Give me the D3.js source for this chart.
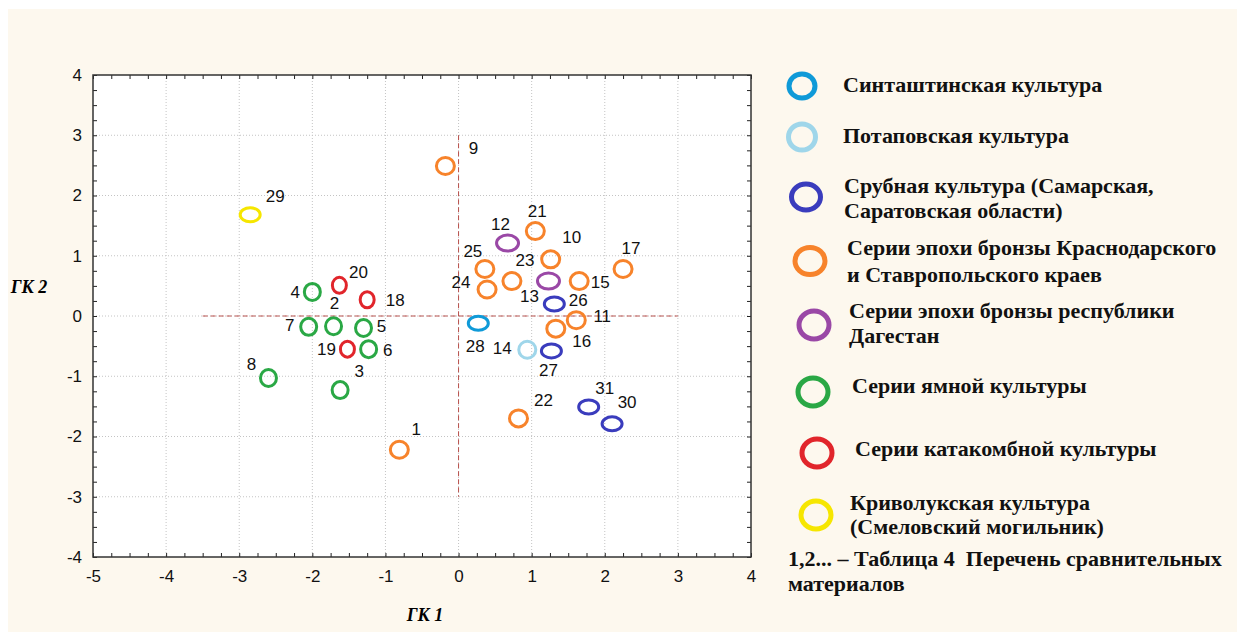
<!DOCTYPE html>
<html>
<head>
<meta charset="utf-8">
<script src="https://cdn.jsdelivr.net/npm/d3@7"></script>
<style>
  body { margin: 0; background: #fff; }
  svg { display: block; }
  .tick text { font-family: "Liberation Sans", Arial, sans-serif; font-size: 17px; fill: #111; }
</style>
</head>
<body>
<svg width="1237" height="632"></svg>
<script>
// groups (legend order)
var groupNames = [
    ["Синташтинская культура"],
    ["Потаповская культура"],
    ["Срубная культура (Самарская,", "Саратовская области)"],
    ["Серии эпохи бронзы Краснодарского", "и Ставропольского краев"],
    ["Серии эпохи бронзы республики", "Дагестан"],
    ["Серии ямной культуры"],
    ["Серии катакомбной культуры"],
    ["Криволукская культура", "(Смеловский могильник)"]
];
var groupColors = ["#0f9ad8", "#9fd6ea", "#3a3cbd", "#f7832b", "#9a48a6", "#2aa845", "#e1252b", "#f6e600"];

// points, numbered as in table 4
var ids   = [1, 2, 3, 4, 5, 6, 7, 8, 9, 10, 11, 12, 13, 14, 15, 16, 17, 18, 19, 20, 21, 22, 23, 24, 25, 26, 27, 28, 29, 30, 31];
var gk1   = [-0.81, -1.71, -1.62, -2.00, -1.30, -1.23, -2.05, -2.60, -0.18, 1.26, 1.61, 0.67, 1.23, 0.94, 1.65, 1.33, 2.25, -1.25, -1.52, -1.63, 1.05, 0.82, 0.73, 0.39, 0.36, 1.31, 1.27, 0.27, -2.85, 2.10, 1.78];
var gk2   = [-2.22, -0.17, -1.23, 0.40, -0.20, -0.55, -0.18, -1.03, 2.49, 0.94, -0.07, 1.21, 0.58, -0.56, 0.58, -0.21, 0.78, 0.27, -0.55, 0.51, 1.41, -1.70, 0.58, 0.44, 0.78, 0.20, -0.58, -0.12, 1.68, -1.79, -1.51];
var group = [3, 5, 5, 5, 5, 5, 5, 5, 3, 3, 3, 4, 4, 1, 3, 3, 3, 6, 6, 6, 3, 3, 3, 3, 3, 2, 2, 0, 7, 2, 2];

var xTicks = [-5, -4, -3, -2, -1, 0, 1, 2, 3, 4];
var yTicks = [-4, -3, -2, -1, 0, 1, 2, 3, 4];

var footnote = ["1,2... – Таблица 4  Перечень сравнительных", "материалов"];

// --- layout / style (not data) ---
var markerSize = [[10, 7], [8.5, 8.5], [10, 7], [9, 8.5], [11, 8], [8, 8.5], [7, 8], [10, 7]];
// label offset of each number from its marker centre
var labelOff = {
    1: [17, -21], 2: [1, -23], 3: [19, -19], 4: [-17, 0], 5: [18, -2], 6: [19, 1], 7: [-19, -2], 8: [-17, -14],
    9: [28, -18], 10: [21, -22], 11: [26, -4], 12: [-7, -19], 13: [-19, 15], 14: [-25, -2], 15: [21, 1], 16: [26, 12],
    17: [8, -21], 18: [28, 0], 19: [-21, 0], 20: [19, -13], 21: [2, -20], 22: [25, -19], 23: [13, -21], 24: [-26, -8],
    25: [-12, -18], 26: [24, -4], 27: [-3, 19], 28: [-3, 23], 29: [25, -19], 30: [15, -22], 31: [16, -19]
};
var legendPos = [
    {cx: 802, cy: 86, rx: 13, ry: 12, tx: 843, ty: [92]},
    {cx: 802, cy: 137, rx: 13.5, ry: 13, tx: 843, ty: [143]},
    {cx: 806, cy: 197, rx: 14.5, ry: 13, tx: 844, ty: [193, 218]},
    {cx: 810, cy: 261, rx: 15, ry: 13.5, tx: 847, ty: [255, 282]},
    {cx: 814, cy: 325, rx: 15, ry: 14, tx: 849, ty: [318, 343]},
    {cx: 813, cy: 392, rx: 15, ry: 14, tx: 852, ty: [393]},
    {cx: 817, cy: 453, rx: 15, ry: 14, tx: 855, ty: [456]},
    {cx: 816, cy: 515, rx: 15, ry: 14, tx: 850, ty: [510, 534]}
];
var legendFont = "bold 22px 'Liberation Serif', serif";

var svg = d3.select("svg");
var L = 93, R = 751, T = 75, B = 557;

svg.append("rect").attr("width", 1237).attr("height", 632).attr("fill", "#ffffff");
svg.append("rect").attr("x", 8).attr("y", 9).attr("width", 1229).attr("height", 623).attr("fill", "#fdf8ee");
svg.append("rect").attr("x", L).attr("y", T).attr("width", R - L).attr("height", B - T).attr("fill", "#ffffff");

var x = d3.scaleLinear().domain([-5, 4]).range([L, R]);
var y = d3.scaleLinear().domain([-4, 4]).range([B, T]);

// grid
var grid = svg.append("g").attr("stroke", "#c4c4c4").attr("stroke-dasharray", "1,2").attr("stroke-width", 1);
xTicks.slice(1, -1).forEach(function(v) {
    grid.append("line").attr("x1", x(v)).attr("x2", x(v)).attr("y1", T).attr("y2", B);
});
yTicks.slice(1, -1).forEach(function(v) {
    grid.append("line").attr("y1", y(v)).attr("y2", y(v)).attr("x1", L).attr("x2", R);
});

// red dashed reference lines
svg.append("line").attr("x1", x(-3.5)).attr("x2", x(3)).attr("y1", y(0)).attr("y2", y(0))
    .attr("stroke", "#b8504c").attr("stroke-width", 1).attr("stroke-dasharray", "5,3");
svg.append("line").attr("x1", x(0)).attr("x2", x(0)).attr("y1", y(3)).attr("y2", y(-3))
    .attr("stroke", "#b8504c").attr("stroke-width", 1).attr("stroke-dasharray", "5,3");

// minor ticks on all four sides, pointing inward
var minorX = d3.range(-5, 4.001, 0.25), minorY = d3.range(-4, 4.001, 0.25);
function minor(g) { g.select(".domain").remove(); g.selectAll("line").attr("stroke", "#222"); }
svg.append("g").attr("transform", "translate(0," + B + ")")
    .call(d3.axisBottom(x).tickValues(minorX).tickSize(-4).tickFormat("")).call(minor);
svg.append("g").attr("transform", "translate(0," + T + ")")
    .call(d3.axisTop(x).tickValues(minorX).tickSize(-4).tickFormat("")).call(minor);
svg.append("g").attr("transform", "translate(" + L + ",0)")
    .call(d3.axisLeft(y).tickValues(minorY).tickSize(-4).tickFormat("")).call(minor);
svg.append("g").attr("transform", "translate(" + R + ",0)")
    .call(d3.axisRight(y).tickValues(minorY).tickSize(-4).tickFormat("")).call(minor);

// tick labels
svg.append("g").attr("transform", "translate(0," + B + ")")
    .call(d3.axisBottom(x).tickValues(xTicks).tickSize(0).tickPadding(13).tickFormat(function(d) { return String(d); }))
    .call(function(g) { g.select(".domain").remove(); });
svg.append("g").attr("transform", "translate(" + L + ",0)")
    .call(d3.axisLeft(y).tickValues(yTicks).tickSize(0).tickPadding(11).tickFormat(function(d) { return String(d); }))
    .call(function(g) { g.select(".domain").remove(); });

// frame
svg.append("rect").attr("x", L).attr("y", T).attr("width", R - L).attr("height", B - T)
    .attr("fill", "none").attr("stroke", "#333").attr("stroke-width", 1.5);

// axis titles
svg.append("text").attr("x", 29).attr("y", 293).attr("text-anchor", "middle")
    .style("font", "italic bold 18px 'Liberation Serif', serif").text("ГК 2");
svg.append("text").attr("x", 425).attr("y", 621).attr("text-anchor", "middle")
    .style("font", "italic bold 18px 'Liberation Serif', serif").text("ГК 1");

// points
var pts = ids.map(function(id, i) { return {id: id, gx: gk1[i], gy: gk2[i], g: group[i]}; });
svg.append("g").selectAll("ellipse").data(pts).join("ellipse")
    .attr("cx", function(d) { return x(d.gx); })
    .attr("cy", function(d) { return y(d.gy); })
    .attr("rx", function(d) { return markerSize[d.g][0]; })
    .attr("ry", function(d) { return markerSize[d.g][1]; })
    .attr("fill", "none")
    .attr("stroke", function(d) { return groupColors[d.g]; })
    .attr("stroke-width", 3);

svg.append("g").selectAll("text").data(pts).join("text")
    .attr("x", function(d) { return x(d.gx) + labelOff[d.id][0]; })
    .attr("y", function(d) { return y(d.gy) + labelOff[d.id][1]; })
    .attr("dy", "0.36em")
    .attr("text-anchor", "middle")
    .style("font", "17px 'Liberation Sans', Arial, sans-serif")
    .attr("fill", "#111")
    .text(function(d) { return d.id; });

// legend
var leg = svg.append("g");
groupNames.forEach(function(lines, i) {
    var p = legendPos[i];
    leg.append("ellipse").attr("cx", p.cx).attr("cy", p.cy).attr("rx", p.rx).attr("ry", p.ry)
        .attr("fill", "none").attr("stroke", groupColors[i]).attr("stroke-width", 5);
    lines.forEach(function(t, j) {
        leg.append("text").attr("x", p.tx).attr("y", p.ty[j])
            .style("font", legendFont).attr("fill", "#111").text(t);
    });
});
footnote.forEach(function(t, j) {
    leg.append("text").attr("x", 788).attr("y", [566, 591][j])
        .style("font", legendFont).style("white-space", "pre").attr("fill", "#111").text(t);
});
</script>
</body>
</html>
